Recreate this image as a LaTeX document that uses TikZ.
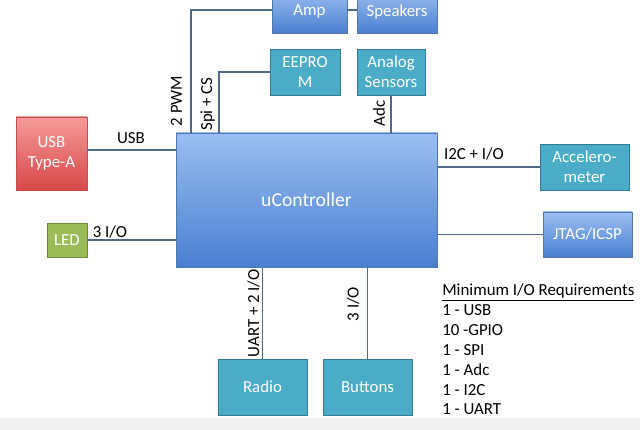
\documentclass[tikz,border=0pt]{standalone}
\usepackage{fontspec}
\setmainfont{Carlito}
\usetikzlibrary{positioning,calc}
\definecolor{wire}{HTML}{4E6A88}
\definecolor{bluetop}{HTML}{9ABEF2}
\definecolor{bluebot}{HTML}{4A7FCF}
\definecolor{blueln}{HTML}{4F78B0}
\definecolor{teal}{HTML}{4AACC6}
\definecolor{tealln}{HTML}{2F7C90}
\definecolor{redtop}{HTML}{F59A9A}
\definecolor{redbot}{HTML}{D84848}
\definecolor{redln}{HTML}{C0504D}
\definecolor{ledfill}{HTML}{9BBB59}
\definecolor{ledln}{HTML}{6E8B3D}

\begin{document}
\begin{tikzpicture}[font=\fontsize{12}{14}\selectfont,
	box/.style={draw, line width=0.7pt, text=white, align=center, inner sep=1pt},
	bluebox/.style={box, draw=blueln, top color=bluetop, bottom color=bluebot},
	tealbox/.style={box, draw=tealln, fill=teal},
	wirel/.style={draw=wire, line width=0.9pt},
	sig/.style={inner sep=1pt}]
	\clip (0,0) rectangle (16,-10.75);
	\fill[white] (0,0) rectangle (16,-10.75);
	\fill[black!6] (0,-10.45) rectangle (16,-10.75);
	% main block
	\node[bluebox, font=\fontsize{14}{16}\selectfont, minimum width=6.525cm, minimum height=3.35cm] (uc) at (7.6625,-5) {uController};
	% top row
	\node[bluebox, minimum width=1.875cm, minimum height=1.075cm] (amp) at (7.7375,-0.29) {Amp};
	\node[bluebox, minimum width=2cm, minimum height=1.075cm] (spk) at (9.925,-0.29) {Speakers};
	\node[tealbox, minimum width=1.75cm, minimum height=1.15cm] (eep) at (7.625,-1.8) {EEPRO\\M};
	\node[tealbox, minimum width=1.7cm, minimum height=1.15cm] (ana) at (9.775,-1.8) {Analog\\Sensors};
	% left side
	\node[box, draw=redln, top color=redtop, bottom color=redbot, minimum width=1.775cm, minimum height=1.825cm] (usb) at (1.2875,-3.8375) {USB\\Type-A};
	\node[box, draw=ledln, fill=ledfill, minimum width=1cm, minimum height=0.85cm] (led) at (1.675,-6.0) {LED};
	% right side
	\node[tealbox, minimum width=2.225cm, minimum height=1.15cm] (acc) at (14.6125,-4.175) {Accelero-\\meter};
	\node[bluebox, minimum width=2.225cm, minimum height=1.125cm] (jtag) at (14.6875,-5.8625) {JTAG/ICSP};
	% bottom row
	\node[tealbox, minimum width=2.225cm, minimum height=1.4cm] (radio) at (6.5625,-9.675) {Radio};
	\node[tealbox, minimum width=2.225cm, minimum height=1.4cm] (btn) at (9.1875,-9.675) {Buttons};
	% wires
	\coordinate (pwm) at (4.775,0);
	\coordinate (spi) at (5.475,0);
	\draw[wirel] (amp.east |- 0,-0.25) -- (spk.west |- 0,-0.25);
	\draw[wirel] (amp.west |- 0,-0.25) -| (pwm |- uc.north);
	\draw[wirel] (eep.west) -| (spi |- uc.north);
	\draw[wirel] (ana.south) -- (ana.south |- uc.north);
	\draw[wirel] (usb.east |- 0,-3.75) -- (uc.west |- 0,-3.75);
	\draw[wirel] (led.east) -- (led.east -| uc.west);
	\draw[wirel] (acc.west) -- (acc.west -| uc.east);
	\draw[wirel] (jtag.west) -- (jtag.west -| uc.east);
	\draw[wirel] (radio.north) -- (radio.north |- uc.south);
	\draw[wirel] (btn.north) -- (btn.north |- uc.south);
	% signal names
	\node[sig] (lusb) at (3.275,-3.45) {USB};
	\node[sig] (lled) at (2.75,-5.8) {3 I/O};
	\node[sig, rotate=90] (lpwm) at (4.41,-2.525) {2 PWM};
	\node[sig, rotate=90] (lspi) at (5.19,-2.6) {Spi + CS};
	\node[sig, rotate=90] (ladc) at (9.475,-2.83) {Adc};
	\node[sig] (li2c) at (11.85,-3.85) {I2C + I/O};
	\node[sig, rotate=90] (luart) at (6.34,-7.83) {UART + 2 I/O};
	\node[sig, rotate=90] (lbtn) at (8.83,-7.6) {3 I/O};
	% requirements list
	\node[anchor=north west, inner sep=0pt, align=left, font=\fontsize{12}{14.2}\selectfont] (req) at (11.05,-7.08)
		{\underline{Minimum I/O Requirements}\\1 - USB\\10 -GPIO\\1 - SPI\\1 - Adc\\1 - I2C\\1 - UART};
\end{tikzpicture}
\end{document}
